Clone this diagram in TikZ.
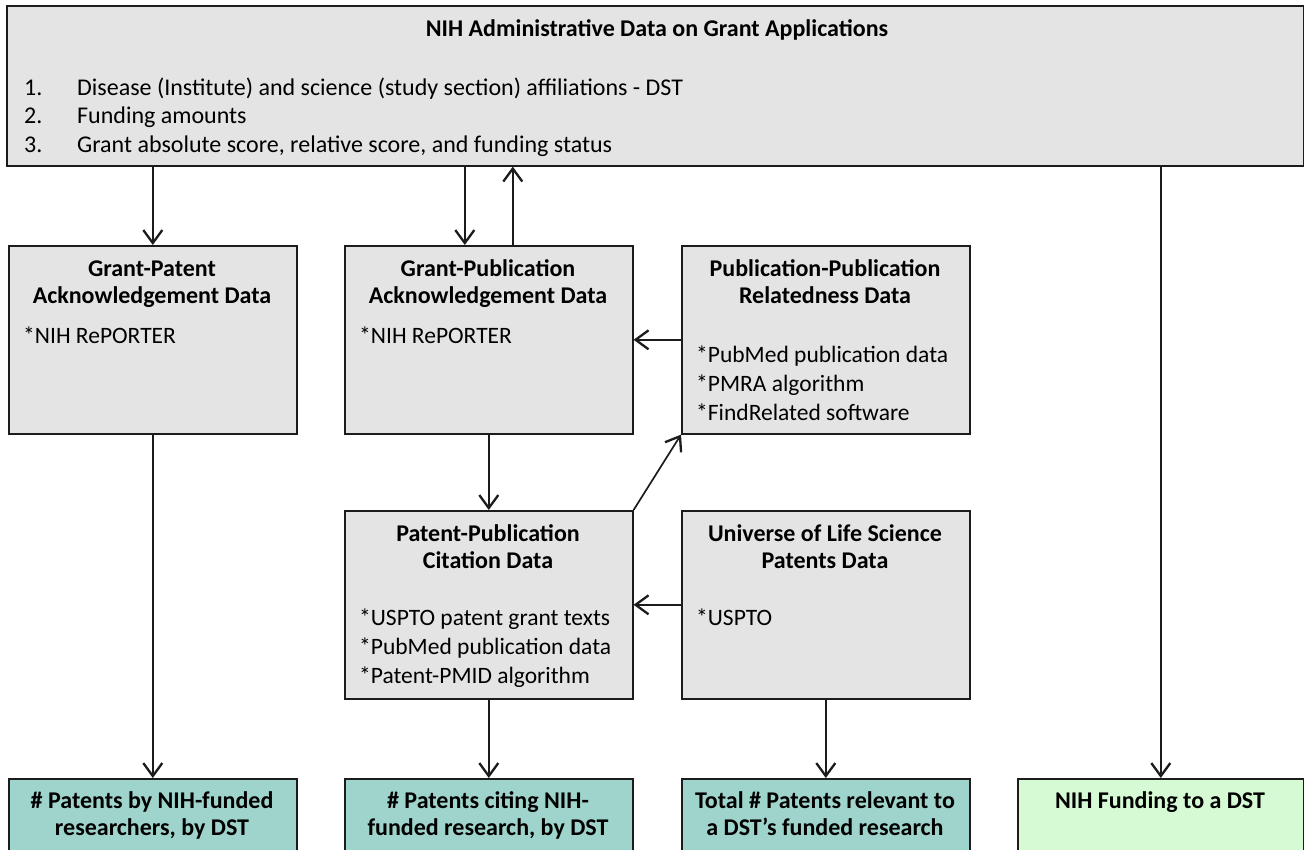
\documentclass[tikz,border=0pt]{standalone}
\usepackage{fontspec}
\setmainfont{Carlito}
\usepackage{xcolor}
\usetikzlibrary{positioning,calc,arrows.meta}

\definecolor{boxgray}{HTML}{E4E4E4}
\definecolor{resultteal}{HTML}{9ED4CB}
\definecolor{fundgreen}{HTML}{D6FAD4}
\definecolor{edgeblack}{HTML}{1C1C1C}

\begin{document}
\begin{tikzpicture}[x=1pt,y=-1pt,
                    >={Straight Barb[length=13pt,width=19pt,line width=2.3pt]},
                    databox/.style={rectangle,draw=edgeblack,line width=1.6pt,fill=boxgray,
                                    anchor=north west,inner sep=0pt,minimum width=288pt,minimum height=188pt},
                    resultbox/.style={databox,fill=resultteal,minimum height=140pt},
                    fundbox/.style={databox,fill=fundgreen,minimum width=286pt,minimum height=140pt},
                    head/.style={anchor=base,align=center,inner sep=0pt,
                                 font=\fontsize{24}{27}\selectfont\bfseries},
                    items/.style={anchor=base west,align=left,inner sep=0pt,
                                  font=\fontsize{23.5}{29}\selectfont},
                    link/.style={->,draw=edgeblack,line width=1.7pt}]
            \useasboundingbox (0,0) rectangle (1304,849);

            %Boxes
                \node[databox,minimum width=1297pt,minimum height=160pt] (nih) at (6,5) {};
                \node[databox] (gpat) at (8,245) {};
                \node[databox] (gpub) at (344,245) {};
                \node[databox] (pubpub) at (681,245) {};
                \node[databox] (patpub) at (344,510) {};
                \node[databox] (lifesci) at (681,510) {};
                \node[resultbox] (npat) at (8,778) {};
                \node[resultbox] (ncite) at (344,778) {};
                \node[resultbox] (ntotal) at (681,778) {};
                \node[fundbox] (fund) at (1017,778) {};

            %Texts (placed at the baseline of their last line)
                \node[head] (nih-head) at (657,36) {NIH Administrative Data on Grant Applications};
                \node[items,font=\fontsize{24}{28.5}\selectfont] (nih-num) at (24,152) {1.\\2.\\3.};
                \node[items,font=\fontsize{24}{28.5}\selectfont] (nih-list) at (77,152)
                    {Disease (Institute) and science (study section) affiliations - DST\\
                     Funding amounts\\
                     Grant absolute score, relative score, and funding status};

                \node[head] (gpat-head) at (152,303) {Grant-Patent\\Acknowledgement Data};
                \node[items] (gpat-src) at (23,343) {*NIH RePORTER};

                \node[head] (gpub-head) at (488,303) {Grant-Publication\\Acknowledgement Data};
                \node[items] (gpub-src) at (359,343) {*NIH RePORTER};

                \node[head] (pubpub-head) at (825,303) {Publication-Publication\\Relatedness Data};
                \node[items] (pubpub-src) at (696,420)
                    {*PubMed publication data\\*PMRA algorithm\\*FindRelated software};

                \node[head] (patpub-head) at (488,568) {Patent-Publication\\Citation Data};
                \node[items] (patpub-src) at (359,683)
                    {*USPTO patent grant texts\\*PubMed publication data\\*Patent-PMID algorithm};

                \node[head] (lifesci-head) at (825,568) {Universe of Life Science\\Patents Data};
                \node[items] (lifesci-src) at (696,625) {*USPTO};

                \node[head] (npat-head) at (152,835) {\# Patents by NIH-funded\\researchers, by DST};
                \node[head] (ncite-head) at (488,835) {\# Patents citing NIH-\\funded research, by DST};
                \node[head] (ntotal-head) at (825,835) {Total \# Patents relevant to\\a DST’s funded research};
                \node[head] (fund-head) at (1160,808) {NIH Funding to a DST};

            %Lines
                \draw[link] (gpat.north |- nih.south) -- (gpat.north);
                \draw[link] ([xshift=-24pt]gpub.north |- nih.south) -- ([xshift=-24pt]gpub.north);
                \draw[link] ([xshift=24pt]gpub.north) -- ([xshift=24pt]gpub.north |- nih.south);
                \draw[link] (fund.north |- nih.south) -- (fund.north);
                \draw[link] (pubpub.west) -- (gpub.east);
                \draw[link] (gpub.south) -- (patpub.north);
                \draw[link] (patpub.north east) -- (pubpub.south west);
                \draw[link] (lifesci.west) -- (patpub.east);
                \draw[link] (gpat.south) -- (npat.north);
                \draw[link] (patpub.south) -- (ncite.north);
                \draw[link] (lifesci.south) -- (ntotal.north);
\end{tikzpicture}
\end{document}
